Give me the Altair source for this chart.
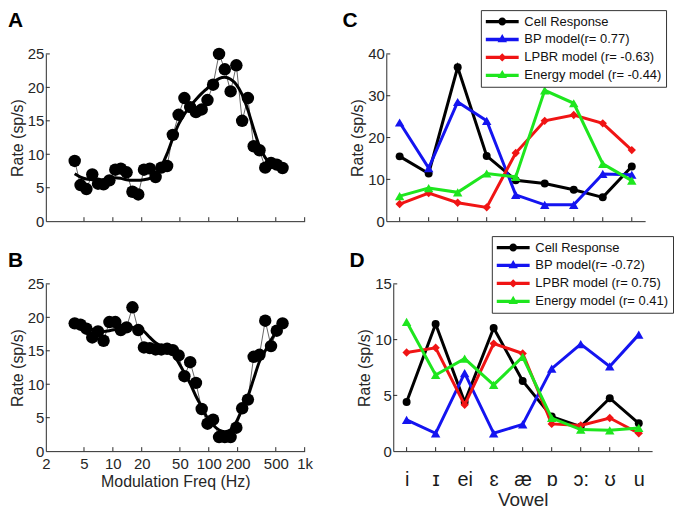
import altair as alt
import pandas as pd

FONT = "Liberation Sans"
AXIS_COLOR = "#2a2a2a"
TEXT_COLOR = "#262626"

# ---------------- Panels A / B : modulation transfer functions ----------------
freqs = [4, 4.6, 5.3, 6.1, 7, 8, 9.2, 10.6, 12.1, 13.9, 16, 18.4, 21.1, 24.3,
         27.9, 32, 36.8, 42.2, 48.5, 55.7, 64, 73.5, 84.4, 97, 111, 128, 147,
         169, 194, 223, 256, 294, 338, 388, 446, 512, 588]
a_rate = [9.0, 5.4, 4.8, 7.0, 5.6, 5.5, 6.1, 7.7, 7.85, 7.3, 4.4, 4.0, 7.7,
          7.85, 6.6, 8.0, 8.25, 12.9, 15.9, 18.4, 17.05, 16.3, 16.7, 18.1,
          20.4, 25.0, 22.7, 19.4, 23.3, 15.0, 18.4, 11.2, 10.6, 8.0, 8.7, 8.45,
          7.95]
a_fit = [7.1, 6.6, 6.3, 6.2, 6.1, 6.2, 6.4, 6.5, 6.4, 6.2, 6.1, 6.1, 6.2, 6.4,
         6.9, 8.2, 10.1, 12.4, 14.5, 16.0, 17.2, 18.2, 19.1, 19.9, 20.7, 21.3,
         21.5, 21.2, 20.4, 18.9, 16.6, 13.8, 11.2, 9.5, 8.5, 8.0, 7.8]
b_rate = [19.1, 18.9, 18.3, 17.0, 17.9, 16.5, 19.3, 19.3, 18.1, 18.5, 21.5,
          18.1, 15.5, 15.4, 15.2, 15.2, 15.3, 15.1, 14.3, 11.2, 13.3, 10.2, 6.3,
          4.1, 4.7, 2.1, 2.1, 2.1, 3.5, 6.4, 7.7, 14.1, 14.4, 19.5, 15.7, 18.0,
          19.1]
b_fit = [19.0, 18.8, 18.5, 18.2, 18.0, 17.9, 18.0, 18.2, 18.4, 18.5, 18.5,
         18.4, 17.9, 17.0, 16.2, 15.7, 15.3, 14.6, 13.2, 11.7, 10.1, 8.2, 6.6,
         4.95, 3.9, 3.15, 2.9, 3.2, 4.4, 6.3, 8.2, 10.8, 13.4, 15.0, 16.6,
         17.9, 18.9]
freq_ticks = [2, 5, 10, 20, 50, 100, 200, 500, 1000]
rate_ticks = [0, 5, 10, 15, 20, 25]

# ---------------- Panels C / D : vowel responses ----------------
vowels = ["i", "ɪ", "ei", "ɛ", "æ", "ɒ", "ɔ:", "ʊ", "u"]
c_labels = ["Cell Response", "BP model(r= 0.77)", "LPBR model (r= -0.63)",
            "Energy model (r= -0.44)"]
c_cell = [15.5, 11.4, 36.8, 15.6, 9.8, 9.0, 7.5, 5.7, 13.1]
c_bp = [23.6, 12.7, 28.5, 24.0, 6.3, 3.9, 3.9, 11.3, 11.1]
c_lpbr = [4.1, 6.7, 4.4, 3.3, 16.3, 24.0, 25.4, 23.4, 17.0]
c_energy = [6.0, 7.9, 6.9, 11.4, 10.6, 31.3, 28.2, 13.7, 9.7]
c_ticks = [0, 10, 20, 30, 40]

d_labels = ["Cell Response", "BP model(r= -0.72)", "LPBR model (r= 0.75)",
            "Energy model (r= 0.41)"]
d_cell = [4.4, 11.4, 4.4, 11.05, 6.3, 3.1, 2.2, 4.75, 2.5]
d_bp = [2.8, 1.6, 7.0, 1.6, 2.4, 7.4, 9.6, 7.6, 10.45]
d_lpbr = [8.85, 9.27, 4.15, 9.65, 8.76, 2.44, 2.3, 2.97, 1.6]
d_energy = [11.6, 6.83, 8.3, 5.94, 8.46, 2.97, 1.93, 1.87, 2.08]
d_ticks = [0, 5, 10, 15]

panel_letters = ["A", "B", "C", "D"]

# ---------------- styles ----------------
series_colors = ["#000000", "#1414f0", "#f01414", "#1ee61e"]
marker_shapes = ["circle", "triangle-up", "diamond", "triangle-up"]
marker_sizes = [64, 90, 70, 90]
_bar = "M-0.87,-0.22H3.53V0.22H-0.87Z "
legend_paths = [
    _bar + "M0.8,0A0.53,0.53 0 1,1 1.86,0A0.53,0.53 0 1,1 0.8,0Z",
    _bar + "M1.33,-0.73L1.96,0.37L0.7,0.37Z",
    _bar + "M1.33,-0.56L1.89,0L1.33,0.56L0.77,0Z",
    _bar + "M1.33,-0.73L1.96,0.37L0.7,0.37Z",
]

W, H = 260, 168
TICK = 4


def y_axis(values):
    return alt.Axis(values=values, title="Rate (sp/s)", ticks=False, grid=False,
                    labelPadding=2, titlePadding=2, labelOverlap=False)


def letter_layer(letter, dx, dy):
    return alt.Chart(pd.DataFrame({"letter": [letter]})).mark_text(
        align="left", baseline="top", font=FONT, fontSize=21,
        fontWeight="bold", color="black"
    ).encode(text="letter:N", x=alt.value(dx), y=alt.value(dy))


def freq_panel(rate, fit, letter, show_labels, ldy):
    df = pd.DataFrame({"freq": freqs, "rate": rate, "fit": fit})
    xs = alt.Scale(type="log", domain=[2, 1000], nice=False)
    ys = alt.Scale(domain=[0, 25], nice=False)
    if show_labels:
        xax = alt.Axis(values=freq_ticks, title="Modulation Freq (Hz)",
                       ticks=False, grid=False, labelPadding=5, titlePadding=3,
                       labelFlush=False, labelOverlap=False,
                       labelExpr="datum.value >= 1000 ? '1k' : format(datum.value, 'd')")
    else:
        xax = alt.Axis(values=freq_ticks, title=None, labels=False,
                       ticks=False, grid=False)
    yax = y_axis(rate_ticks)
    x = alt.X("freq:Q", scale=xs, axis=xax)
    base = alt.Chart(df)
    thin = base.mark_line(color="#555555", strokeWidth=0.9).encode(
        x=x, y=alt.Y("rate:Q", scale=ys, axis=yax))
    dots = base.mark_point(shape="circle", filled=True, color="black",
                           size=156, opacity=1).encode(
        x=x, y=alt.Y("rate:Q", scale=ys, axis=yax))
    fitl = base.mark_line(color="black", strokeWidth=3,
                          interpolate="monotone").encode(
        x=x, y=alt.Y("fit:Q", scale=ys, axis=yax))
    xt = alt.Chart(pd.DataFrame({"freq": freq_ticks[1:]})).mark_rule(
        color=AXIS_COLOR, strokeWidth=1).encode(
        x=x, y=alt.value(H), y2=alt.value(H - TICK))
    yt = alt.Chart(pd.DataFrame({"rate": rate_ticks[1:]})).mark_rule(
        color=AXIS_COLOR, strokeWidth=1).encode(
        y=alt.Y("rate:Q", scale=ys, axis=yax), x=alt.value(0), x2=alt.value(TICK))
    return alt.layer(thin, dots, fitl, xt, yt,
                     letter_layer(letter, -38, ldy)).properties(width=W, height=H)


def vowel_panel(series_vals, labels, yticks, letter, show_labels, lx, ly, ldy):
    rows = []
    for lab, vals in zip(labels, series_vals):
        for v, r in zip(vowels, vals):
            rows.append({"vowel": v, "rate": r, "series": lab})
    df = pd.DataFrame(rows)
    xs = alt.Scale(type="point", domain=vowels, padding=0.46)
    ys = alt.Scale(domain=[yticks[0], yticks[-1]], nice=False)
    if show_labels:
        xax = alt.Axis(title="Vowel", ticks=False, grid=False, labelAngle=0,
                       labelFontSize=20, labelColor="#1a1a1a", labelPadding=19,
                       titleFontSize=19, titlePadding=1, labelFont=FONT + ", DejaVu Sans")
    else:
        xax = alt.Axis(title=None, labels=False, ticks=False, grid=False)
    x = alt.X("vowel:N", scale=xs, axis=xax, sort=vowels)
    y = alt.Y("rate:Q", scale=ys, axis=y_axis(yticks))
    legend = alt.Legend(title=None, orient="none", legendX=lx, legendY=ly,
                        direction="vertical", fillColor="white",
                        strokeColor="#333333", padding=4, rowPadding=3,
                        cornerRadius=0, symbolSize=225, symbolStrokeWidth=0,
                        symbolOpacity=1, labelFont=FONT, labelFontSize=13,
                        labelColor="#111111", labelOffset=24.7, labelLimit=400)
    base = alt.Chart(df)
    legend_layer = base.transform_filter("false").mark_point(
        filled=True, opacity=1, size=225).encode(
        x=x, y=y,
        color=alt.Color("series:N", scale=alt.Scale(domain=labels, range=series_colors),
                        legend=legend),
        shape=alt.Shape("series:N", scale=alt.Scale(domain=labels, range=legend_paths),
                        legend=legend))
    layers = [legend_layer]
    for lab, col, shp, sz in zip(labels, series_colors, marker_shapes, marker_sizes):
        sub = base.transform_filter(alt.datum.series == lab)
        layers.append(sub.mark_line(color=col, strokeWidth=3).encode(x=x, y=y))
        layers.append(sub.mark_point(shape=shp, filled=True, color=col, size=sz,
                                     opacity=1).encode(x=x, y=y))
    xt = alt.Chart(pd.DataFrame({"vowel": vowels})).mark_rule(
        color=AXIS_COLOR, strokeWidth=1).encode(
        x=x, y=alt.value(H), y2=alt.value(H - TICK))
    yt = alt.Chart(pd.DataFrame({"rate": yticks[1:]})).mark_rule(
        color=AXIS_COLOR, strokeWidth=1).encode(
        y=y, x=alt.value(0), x2=alt.value(TICK))
    layers += [xt, yt, letter_layer(letter, -44, ldy)]
    return alt.layer(*layers).properties(width=W, height=H)


panel_a = freq_panel(a_rate, a_fit, panel_letters[0], False, -44)
panel_b = freq_panel(b_rate, b_fit, panel_letters[1], True, -34)
panel_c = vowel_panel([c_cell, c_bp, c_lpbr, c_energy], c_labels, c_ticks,
                      panel_letters[2], False, 95, -44, -44)
panel_d = vowel_panel([d_cell, d_bp, d_lpbr, d_energy], d_labels, d_ticks,
                      panel_letters[3], True, 99, -48, -34)

row1 = alt.hconcat(panel_a, panel_c, spacing=37).resolve_scale(
    color="independent", shape="independent")
row2 = alt.hconcat(panel_b, panel_d, spacing=37).resolve_scale(
    color="independent", shape="independent")

chart = alt.vconcat(row1, row2, spacing=6).resolve_scale(
    color="independent", shape="independent"
).properties(padding=0).configure_view(stroke=None).configure_axis(
    domainColor=AXIS_COLOR, domainWidth=1, labelColor=TEXT_COLOR,
    titleColor=TEXT_COLOR, labelFont=FONT, titleFont=FONT, labelFontSize=15,
    titleFontSize=16, titleFontWeight="normal", grid=False, tickSize=0
)

chart.save("out.html", embed_options={"renderer": "svg", "actions": False})
